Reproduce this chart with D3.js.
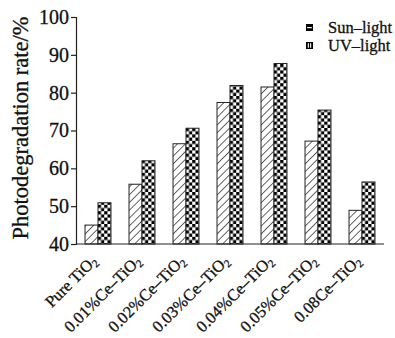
<!DOCTYPE html>
<html>
<head>
<meta charset="utf-8">
<script src="https://cdn.jsdelivr.net/npm/d3@7"></script>
<style>
  html, body { margin: 0; padding: 0; background: #fff; }
  svg { display: block; }
  text { font-family: "Liberation Serif", "Times New Roman", serif; fill: #111; stroke: #111; stroke-width: 0.3; }
</style>
</head>
<body>
<script>
// Catalyst samples (label text before the subscript "2")
const categories = ["Pure TiO", "0.01%Ce–TiO", "0.02%Ce–TiO", "0.03%Ce–TiO", "0.04%Ce–TiO", "0.05%Ce–TiO", "0.08Ce–TiO"];
const subscript = "2";
// Photodegradation rate (%) under each light source
const sunLight = [45.0, 55.8, 66.5, 77.4, 81.5, 67.2, 48.9];
const uvLight = [50.9, 62.0, 70.6, 81.9, 87.7, 75.4, 56.4];
const seriesNames = ["Sun–light", "UV–light"];
const yTicks = [40, 50, 60, 70, 80, 90, 100];
const yTitle = "Photodegradation rate/%";

const W = 395, H = 338;
const svg = d3.select("body").append("svg").attr("width", W).attr("height", H);
svg.append("rect").attr("width", W).attr("height", H).attr("fill", "#fff");

const defs = svg.append("defs");
// diagonal hatch for Sun-light bars
const hatch = defs.append("pattern").attr("id", "hatch")
  .attr("patternUnits", "userSpaceOnUse").attr("width", 5.5).attr("height", 5.5)
  .attr("patternTransform", "rotate(45)");
hatch.append("rect").attr("width", 5.5).attr("height", 5.5).attr("fill", "#fff");
hatch.append("line").attr("x1", 0).attr("y1", 0).attr("x2", 0).attr("y2", 5.5)
  .attr("stroke", "#555").attr("stroke-width", 1.8);
// checkerboard for UV-light bars
const cell = 3.2;
const check = defs.append("pattern").attr("id", "check")
  .attr("patternUnits", "userSpaceOnUse").attr("width", cell * 2).attr("height", cell * 2);
check.append("rect").attr("width", cell * 2).attr("height", cell * 2).attr("fill", "#fff");
check.append("rect").attr("width", cell).attr("height", cell).attr("fill", "#000");
check.append("rect").attr("x", cell).attr("y", cell).attr("width", cell).attr("height", cell).attr("fill", "#000");

const x0 = 76, x1 = 384, yTop = 17, yBot = 244;
const x = d3.scaleBand().domain(d3.range(categories.length)).range([x0, x1])
  .paddingInner(0.41).paddingOuter(0.205);
const xs = d3.scaleBand().domain([0, 1]).range([0, x.bandwidth()]);
const y = d3.scaleLinear().domain([40, 100]).range([yBot, yTop]);

const series = [sunLight, uvLight];
const fills = ["url(#hatch)", "url(#check)"];

const groups = svg.append("g").selectAll("g").data(categories).join("g")
  .attr("transform", (d, i) => `translate(${x(i)},0)`);
groups.selectAll("rect").data((d, i) => series.map((s, k) => ({ k, v: s[i] }))).join("rect")
  .attr("x", d => xs(d.k))
  .attr("y", d => y(d.v))
  .attr("width", xs.bandwidth())
  .attr("height", d => y(40) - y(d.v))
  .attr("fill", d => fills[d.k])
  .attr("stroke", "#222").attr("stroke-width", 1);

// y axis
const yAxis = svg.append("g").attr("transform", `translate(${x0},0)`)
  .call(d3.axisLeft(y).tickValues(yTicks).tickSize(5).tickPadding(2));
yAxis.select(".domain").attr("stroke", "#222").attr("stroke-width", 1.2);
yAxis.selectAll(".tick line").attr("stroke", "#222").attr("stroke-width", 1.2);
yAxis.selectAll(".tick text").attr("font-size", 20).attr("fill", "#111")
  .style("font-family", "'Liberation Serif', serif");

// x baseline
svg.append("line").attr("x1", x0).attr("x2", x1).attr("y1", yBot).attr("y2", yBot)
  .attr("stroke", "#222").attr("stroke-width", 1.2);

// y title
svg.append("text")
  .attr("transform", `translate(28,128) rotate(-90)`)
  .attr("text-anchor", "middle").attr("font-size", 22.5).text(yTitle);

// rotated category labels with subscript
const xl = svg.append("g").selectAll("text").data(categories).join("text")
  .attr("transform", (d, i) => `translate(${x(i) + x.bandwidth() / 2},${yBot + 18}) rotate(-45)`)
  .attr("text-anchor", "end").attr("font-size", 16.5);
xl.append("tspan").text(d => d);
xl.append("tspan").attr("font-size", 11).attr("dy", 3).text(subscript);

// legend
const lg = svg.append("g");
const lx = 306, ly = [24, 42];
seriesNames.forEach((name, k) => {
  const g = lg.append("g").attr("transform", `translate(${lx},${ly[k]})`);
  g.append("rect").attr("width", 7).attr("height", 7).attr("fill", "#000");
  if (k === 0) {
    g.append("rect").attr("x", 1.2).attr("y", 3).attr("width", 4.6).attr("height", 1.2).attr("fill", "#fff");
  } else {
    g.append("rect").attr("x", 1.8).attr("y", 1.2).attr("width", 1.1).attr("height", 4.6).attr("fill", "#fff");
    g.append("rect").attr("x", 4.1).attr("y", 1.2).attr("width", 1.1).attr("height", 4.6).attr("fill", "#fff");
  }
  g.append("text").attr("x", 22).attr("y", 8.5).attr("font-size", 16.5).text(name);
});
</script>
</body>
</html>
